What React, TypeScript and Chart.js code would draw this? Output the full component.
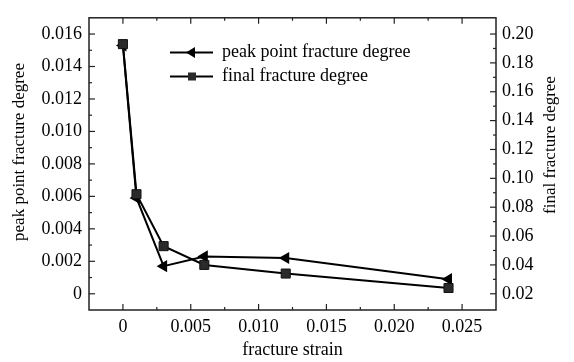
import React, { useEffect, useRef } from 'react';
import { Chart, registerables } from 'chart.js';

Chart.register(...registerables);

// ---- data ----
const strain = [0, 0.001, 0.003, 0.006, 0.012, 0.024];
const peakDegree = [0.0153, 0.0059, 0.0017, 0.0023, 0.0022, 0.0009];
const finalDegree = [0.193, 0.089, 0.053, 0.040, 0.034, 0.024];

const xTicks = [0, 0.005, 0.01, 0.015, 0.02, 0.025];
const xTickLabels = ['0', '0.005', '0.010', '0.015', '0.020', '0.025'];
const leftTicks = [0, 0.002, 0.004, 0.006, 0.008, 0.01, 0.012, 0.014, 0.016];
const leftTickLabels = ['0', '0.002', '0.004', '0.006', '0.008', '0.010', '0.012', '0.014', '0.016'];
const rightTicks = [0.02, 0.04, 0.06, 0.08, 0.1, 0.12, 0.14, 0.16, 0.18, 0.2];
const rightTickLabels = ['0.02', '0.04', '0.06', '0.08', '0.10', '0.12', '0.14', '0.16', '0.18', '0.20'];

const seriesNames = ['peak point fracture degree', 'final fracture degree'];
const xTitle = 'fracture strain';
const leftTitle = 'peak point fracture degree';
const rightTitle = 'final fracture degree';

const FONT = '"Liberation Serif", "Times New Roman", serif';
const FS = 18;
const FS_V = 17;

function minorOf(ticks: number[], min: number, max: number) {
  const out: number[] = [];
  const step = ticks[1] - ticks[0];
  const eps = step * 0.15;
  for (let i = -1; i < ticks.length; i++) {
    const v = (i < 0 ? ticks[0] - step : ticks[i]) + step / 2;
    if (v > min + eps && v < max - eps) out.push(v);
  }
  return out;
}

const framePlugin = {
  id: 'frameTicks',
  afterDraw(chart: any) {
    const { ctx, chartArea: a, scales } = chart;
    const x = scales.x, yl = scales.y, yr = scales.y2;
    ctx.save();
    ctx.strokeStyle = '#222';
    ctx.lineWidth = 1.5;
    ctx.strokeRect(a.left, a.top, a.right - a.left, a.bottom - a.top);
    ctx.lineWidth = 1.2;
    const MAJ = 6, MIN = 3;
    const vt = (px: number, len: number) => {
      ctx.beginPath();
      ctx.moveTo(px, a.bottom); ctx.lineTo(px, a.bottom - len);
      ctx.moveTo(px, a.top); ctx.lineTo(px, a.top + len);
      ctx.stroke();
    };
    xTicks.forEach(v => vt(x.getPixelForValue(v), MAJ));
    minorOf(xTicks, x.min, x.max).forEach(v => vt(x.getPixelForValue(v), MIN));
    const lt = (py: number, len: number) => {
      ctx.beginPath(); ctx.moveTo(a.left, py); ctx.lineTo(a.left + len, py); ctx.stroke();
    };
    const rt = (py: number, len: number) => {
      ctx.beginPath(); ctx.moveTo(a.right, py); ctx.lineTo(a.right - len, py); ctx.stroke();
    };
    leftTicks.forEach(v => lt(yl.getPixelForValue(v), MAJ));
    minorOf(leftTicks, yl.min, yl.max).forEach(v => lt(yl.getPixelForValue(v), MIN));
    rightTicks.forEach(v => rt(yr.getPixelForValue(v), MAJ));
    minorOf(rightTicks, yr.min, yr.max).forEach(v => rt(yr.getPixelForValue(v), MIN));

    // axis titles
    ctx.fillStyle = '#000';
    ctx.font = `${FS}px ${FONT}`;
    ctx.textAlign = 'center';
    ctx.textBaseline = 'middle';
    ctx.fillText(xTitle, (a.left + a.right) / 2, 350);
    ctx.font = `${FS_V}px ${FONT}`;
    ctx.save();
    ctx.translate(20, 152);
    ctx.rotate(-Math.PI / 2);
    ctx.fillText(leftTitle, 0, 0);
    ctx.restore();
    ctx.save();
    ctx.translate(551, 145);
    ctx.rotate(-Math.PI / 2);
    ctx.fillText(rightTitle, 0, 0);
    ctx.restore();

    // legend
    ctx.font = `${FS}px ${FONT}`;
    const items = [
      { y: 52.5, style: 'triangle' },
      { y: 76.5, style: 'rect' },
    ];
    items.forEach((it, i) => {
      ctx.strokeStyle = '#000';
      ctx.lineWidth = 2;
      ctx.beginPath();
      ctx.moveTo(170, it.y); ctx.lineTo(213, it.y);
      ctx.stroke();
      ctx.fillStyle = i === 0 ? '#000' : '#2a2a2a';
      ctx.beginPath();
      if (it.style === 'triangle') {
        ctx.moveTo(186, it.y);
        ctx.lineTo(195, it.y - 5.5);
        ctx.lineTo(195, it.y + 5.5);
        ctx.closePath();
        ctx.fill();
      } else {
        ctx.fillRect(188, it.y - 4, 8, 8);
      }
      ctx.fillStyle = '#000';
      ctx.textAlign = 'left';
      ctx.textBaseline = 'middle';
      ctx.fillText(seriesNames[i], 222, it.y);
    });
    ctx.restore();
  },
};

export default function App() {
  const ref = useRef<HTMLCanvasElement>(null);
  useEffect(() => {
    document.body.style.margin = '0';
    const tickFont = { family: FONT, size: FS };
    const chart = new Chart(ref.current!, {
      type: 'line',
      data: {
        datasets: [
          {
            label: seriesNames[0],
            data: strain.map((s, i) => ({ x: s, y: peakDegree[i] })),
            yAxisID: 'y',
            borderColor: '#000',
            backgroundColor: '#000',
            borderWidth: 2,
            pointStyle: 'triangle',
            pointRotation: -90,
            pointRadius: 7,
            pointBorderWidth: 0,
            order: 1,
          },
          {
            label: seriesNames[1],
            data: strain.map((s, i) => ({ x: s, y: finalDegree[i] })),
            yAxisID: 'y2',
            borderColor: '#000',
            backgroundColor: '#2a2a2a',
            pointBorderColor: '#111',
            borderWidth: 2,
            pointStyle: 'rect',
            pointRadius: 6.4,
            pointBorderWidth: 1,
            order: 0,
          },
        ],
      },
      options: {
        animation: false,
        responsive: false,
        devicePixelRatio: 1,
        layout: { padding: { top: 12, left: 0, right: 0, bottom: 0 } },
        plugins: { legend: { display: false }, tooltip: { enabled: false } },
        scales: {
          x: {
            type: 'linear',
            min: -0.0025,
            max: 0.0275,
            grid: { display: false, drawTicks: false },
            border: { display: false },
            afterBuildTicks: (s: any) => { s.ticks = xTicks.map(v => ({ value: v })); },
            afterFit: (s: any) => { s.height = 52; },
            ticks: {
              color: '#000',
              font: tickFont,
              padding: 6,
              maxRotation: 0,
              autoSkip: false,
              callback: (v: any) => { const i = xTicks.findIndex(t => Math.abs(t - v) < 1e-9); return i >= 0 ? xTickLabels[i] : ''; },
            },
          },
          y: {
            type: 'linear',
            position: 'left',
            min: -0.001,
            max: 0.017,
            grid: { display: false, drawTicks: false },
            border: { display: false },
            afterBuildTicks: (s: any) => { s.ticks = leftTicks.map(v => ({ value: v })); },
            afterFit: (s: any) => { s.width = 89; },
            ticks: {
              color: '#000',
              font: tickFont,
              padding: 7,
              autoSkip: false,
              callback: (v: any) => { const i = leftTicks.findIndex(t => Math.abs(t - v) < 1e-9); return i >= 0 ? leftTickLabels[i] : ''; },
            },
          },
          y2: {
            type: 'linear',
            position: 'right',
            min: 0.00875,
            max: 0.21125,
            grid: { display: false, drawTicks: false },
            border: { display: false },
            afterBuildTicks: (s: any) => { s.ticks = rightTicks.map(v => ({ value: v })); },
            afterFit: (s: any) => { s.width = 78; },
            ticks: {
              color: '#000',
              font: tickFont,
              padding: 6,
              autoSkip: false,
              callback: (v: any) => { const i = rightTicks.findIndex(t => Math.abs(t - v) < 1e-9); return i >= 0 ? rightTickLabels[i] : ''; },
            },
          },
        },
      },
      plugins: [framePlugin],
    });
    return () => chart.destroy();
  }, []);
  return (
    <div style={{ width: 574, height: 362, background: '#fff' }}>
      <canvas ref={ref} width={574} height={362} style={{ display: 'block' }} />
    </div>
  );
}
